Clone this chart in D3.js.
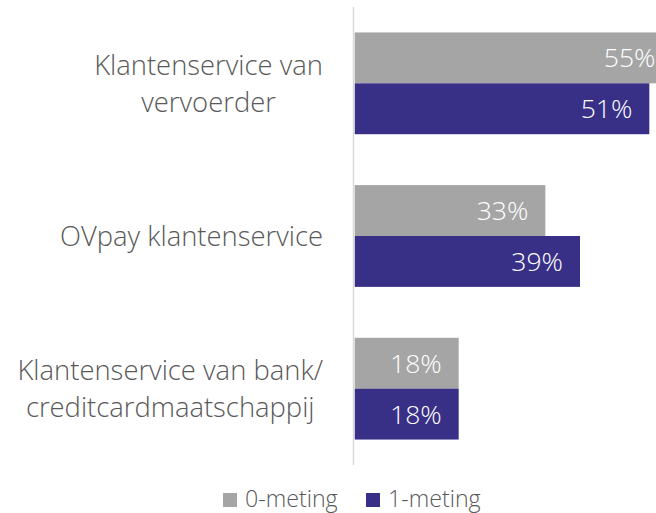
<!DOCTYPE html>
<html>
<head>
<meta charset="utf-8">
<script src="https://cdn.jsdelivr.net/npm/d3@7"></script>
<style>
  html, body { margin: 0; padding: 0; background: #fff; }
  svg { display: block; font-family: "Open Sans", "Noto Sans", sans-serif; font-weight: 300; }
</style>
</head>
<body>
<svg id="chart" width="656" height="513"></svg>
<script>
// Categories (each entry lists its label lines)
const categories = ["vervoerder", "ovpay", "bank"];
const categoryLines = [
  ["Klantenservice van", "vervoerder"],
  ["OVpay klantenservice"],
  ["Klantenservice van bank/", "creditcardmaatschappij"]
];
// Series
const seriesNames = ["0-meting", "1-meting"];
const meting0 = [55, 33, 18];
const meting1 = [51, 39, 18];
const seriesColors = ["#a5a5a5", "#382f87"];

const W = 656, H = 513;
const svg = d3.select("#chart");

const clip = svg.append("defs").append("clipPath").attr("id", "plotclip");
clip.append("rect").attr("x", 0).attr("y", 0).attr("width", W).attr("height", H);

const x = d3.scaleLinear().domain([0, 60]).range([354.7, 354.7 + 60 * 5.777]);
const y = d3.scaleBand().domain(categories).range([7, 465]).paddingInner(1 / 3).paddingOuter(1 / 6);
const ySub = d3.scaleBand().domain(seriesNames).range([0, y.bandwidth()]);

const rows = categories.map((c, i) => ({ cat: c, values: [meting0[i], meting1[i]] }));

const plot = svg.append("g").attr("clip-path", "url(#plotclip)");

const groups = plot.selectAll("g.grp").data(rows).join("g")
  .attr("class", "grp")
  .attr("transform", d => `translate(0,${y(d.cat)})`);

groups.selectAll("rect").data(d => d.values.map((v, j) => ({ v, s: seriesNames[j], j })))
  .join("rect")
  .attr("x", x(0))
  .attr("y", d => ySub(d.s))
  .attr("width", d => x(d.v) - x(0))
  .attr("height", ySub.bandwidth())
  .attr("fill", d => seriesColors[d.j]);

groups.selectAll("text.val").data(d => d.values.map((v, j) => ({ v, s: seriesNames[j], j })))
  .join("text")
  .attr("class", "val")
  .attr("x", d => x(d.v) - 17)
  .attr("y", d => ySub(d.s) + ySub.bandwidth() / 2)
  .attr("dy", "0.36em")
  .attr("text-anchor", "end")
  .attr("fill", "#ffffff")
  .attr("font-size", 26.5)
  .text(d => d.v + "%");

// Category axis line
svg.append("line")
  .attr("x1", 353.5).attr("x2", 353.5)
  .attr("y1", y.range()[0]).attr("y2", y.range()[1])
  .attr("stroke", "#d9d9d9").attr("stroke-width", 1.5);

// Category labels: multi-line blocks, lines centred within the block, block right-aligned
const labelRight = 323, lineGap = 37;
categories.forEach((c, i) => {
  const lines = categoryLines[i];
  const g = svg.append("g");
  const cy = y(c) + y.bandwidth() / 2;
  const texts = lines.map((ln, k) => g.append("text")
    .attr("font-size", 27.4)
    .attr("fill", "#595959")
    .attr("text-anchor", "middle")
    .attr("y", cy + 10 + (k - (lines.length - 1) / 2) * lineGap)
    .text(ln));
  const maxW = d3.max(texts, t => t.node().getComputedTextLength());
  texts.forEach(t => t.attr("x", labelRight - maxW / 2));
});

// Legend
const legend = svg.append("g");
const legendItems = [{ x: 223, name: seriesNames[0], color: seriesColors[0] },
                     { x: 366, name: seriesNames[1], color: seriesColors[1] }];
legendItems.forEach(it => {
  legend.append("rect").attr("x", it.x).attr("y", 493).attr("width", 14).attr("height", 14).attr("fill", it.color);
  legend.append("text").attr("x", it.x + 22).attr("y", 507).attr("font-size", 23.2)
    .attr("fill", "#595959").text(it.name);
});
</script>
</body>
</html>
